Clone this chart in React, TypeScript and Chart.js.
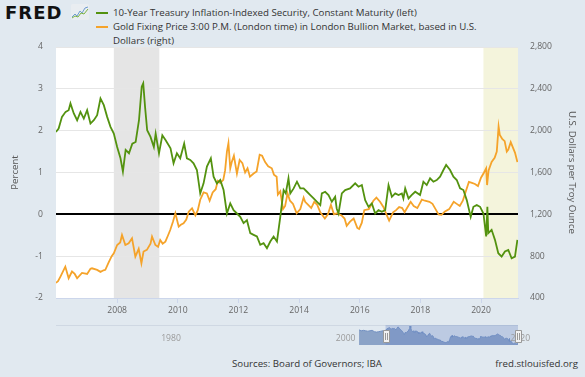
import React, { useEffect, useRef } from "react";
import { Chart, registerables } from "chart.js";

Chart.register(...registerables);

// ---------------- data ----------------
const tipsYears = [
  2005.98, 2006.07, 2006.18, 2006.30, 2006.40, 2006.46, 2006.57, 2006.68, 2006.79, 2006.90,
  2007.01, 2007.12, 2007.23, 2007.34, 2007.45, 2007.56, 2007.67, 2007.78, 2007.89, 2008.00,
  2008.11, 2008.19, 2008.28, 2008.39, 2008.50, 2008.61, 2008.72, 2008.81, 2008.86, 2008.92,
  2008.99, 2009.10, 2009.21, 2009.27, 2009.38, 2009.49, 2009.60, 2009.76, 2009.86, 2009.97,
  2010.08, 2010.21, 2010.30, 2010.41, 2010.52, 2010.63, 2010.74, 2010.85, 2010.96, 2011.09,
  2011.18, 2011.29, 2011.40, 2011.51, 2011.62, 2011.73, 2011.84, 2011.95, 2012.06, 2012.17,
  2012.28, 2012.39, 2012.50, 2012.61, 2012.72, 2012.83, 2012.94, 2013.05, 2013.16, 2013.27,
  2013.38, 2013.49, 2013.56, 2013.65, 2013.71, 2013.82, 2013.93, 2014.04, 2014.15, 2014.26,
  2014.37, 2014.48, 2014.59, 2014.70, 2014.75, 2014.86, 2014.97, 2015.08, 2015.19, 2015.24,
  2015.30, 2015.41, 2015.52, 2015.68, 2015.85, 2015.96, 2016.07, 2016.18, 2016.29, 2016.40,
  2016.51, 2016.62, 2016.73, 2016.84, 2016.95, 2017.06, 2017.17, 2017.28, 2017.39, 2017.44,
  2017.50, 2017.61, 2017.71, 2017.83, 2017.99, 2018.10, 2018.21, 2018.32, 2018.43, 2018.54,
  2018.65, 2018.76, 2018.85, 2018.98, 2019.09, 2019.20, 2019.31, 2019.42, 2019.53, 2019.66,
  2019.75, 2019.86, 2019.97, 2020.08, 2020.17, 2020.21, 2020.24, 2020.35, 2020.46, 2020.57,
  2020.68, 2020.79, 2020.90, 2021.01, 2021.12, 2021.20,
];
const tipsValues = [
  1.97, 2.05, 2.33, 2.45, 2.49, 2.65, 2.41, 2.25, 2.45, 2.29,
  2.49, 2.17, 2.25, 2.37, 2.77, 2.61, 2.33, 2.09, 1.93, 1.61,
  1.34, 1.02, 1.54, 1.46, 1.69, 1.73, 2.25, 3.05, 3.13, 2.57,
  2.01, 1.85, 1.61, 1.93, 1.46, 1.89, 1.77, 1.58, 1.22, 1.46,
  1.34, 1.69, 1.34, 1.30, 1.22, 1.06, 0.50, 0.74, 1.14, 1.34,
  0.90, 0.74, 0.82, 0.58, 0.02, 0.26, 0.10, 0.02, -0.06, -0.21,
  -0.14, -0.45, -0.49, -0.53, -0.73, -0.69, -0.81, -0.65, -0.53, -0.65,
  -0.06, 0.58, 0.50, 0.86, 0.50, 0.62, 0.78, 0.62, 0.62, 0.54,
  0.46, 0.38, 0.30, 0.22, 0.50, 0.54, 0.46, 0.30, 0.42, 0.14,
  0.02, 0.50, 0.58, 0.62, 0.74, 0.66, 0.70, 0.34, 0.18, 0.26,
  0.02, 0.10, 0.06, 0.10, 0.70, 0.42, 0.50, 0.46, 0.50, 0.38,
  0.62, 0.38, 0.46, 0.54, 0.46, 0.78, 0.70, 0.86, 0.78, 0.82,
  0.90, 1.06, 1.18, 1.06, 0.90, 0.82, 0.62, 0.58, 0.34, -0.06,
  0.18, 0.22, 0.18, 0.02, -0.53, 0.18, -0.45, -0.37, -0.61, -0.93,
  -1.01, -0.89, -0.85, -1.05, -1.01, -0.61,
];

const goldYears = [
  2005.98, 2006.05, 2006.13, 2006.29, 2006.40, 2006.51, 2006.60, 2006.68, 2006.84, 2007.01,
  2007.12, 2007.17, 2007.34, 2007.45, 2007.55, 2007.61, 2007.72, 2007.82, 2007.89, 2008.00,
  2008.10, 2008.16, 2008.27, 2008.38, 2008.49, 2008.60, 2008.71, 2008.80, 2008.87, 2008.98,
  2009.10, 2009.15, 2009.26, 2009.35, 2009.42, 2009.50, 2009.59, 2009.68, 2009.75, 2009.84,
  2009.92, 2010.03, 2010.10, 2010.19, 2010.28, 2010.36, 2010.47, 2010.58, 2010.66, 2010.74,
  2010.85, 2010.96, 2011.05, 2011.15, 2011.25, 2011.32, 2011.40, 2011.50, 2011.56, 2011.62,
  2011.67, 2011.73, 2011.78, 2011.85, 2011.95, 2012.04, 2012.13, 2012.22, 2012.30, 2012.38,
  2012.50, 2012.60, 2012.70, 2012.78, 2012.88, 2012.98, 2013.10, 2013.17, 2013.26, 2013.30,
  2013.38, 2013.47, 2013.54, 2013.62, 2013.70, 2013.80, 2013.92, 2014.04, 2014.15, 2014.20,
  2014.30, 2014.40, 2014.50, 2014.60, 2014.70, 2014.85, 2014.95, 2015.05, 2015.15, 2015.25,
  2015.40, 2015.50, 2015.57, 2015.68, 2015.80, 2015.92, 2015.98, 2016.07, 2016.15, 2016.30,
  2016.45, 2016.55, 2016.67, 2016.78, 2016.88, 2016.97, 2017.10, 2017.20, 2017.30, 2017.40,
  2017.48, 2017.58, 2017.68, 2017.78, 2017.90, 2018.05, 2018.15, 2018.30, 2018.40, 2018.50,
  2018.60, 2018.70, 2018.80, 2018.95, 2019.10, 2019.20, 2019.30, 2019.40, 2019.50, 2019.60,
  2019.70, 2019.80, 2019.90, 2020.00, 2020.10, 2020.17, 2020.20, 2020.25, 2020.35, 2020.45,
  2020.52, 2020.58, 2020.62, 2020.70, 2020.78, 2020.85, 2020.90, 2020.98, 2021.05, 2021.12,
  2021.20,
];
const goldValues = [
  545, 560, 605, 700, 589, 653, 630, 589, 640, 630,
  680, 684, 669, 650, 665, 670, 740, 800, 828, 907,
  930, 1003, 907, 923, 971, 796, 870, 732, 844, 860,
  920, 987, 907, 890, 955, 920, 939, 1000, 1050, 1130,
  1210, 1082, 1100, 1114, 1150, 1225, 1257, 1190, 1240, 1340,
  1410, 1400, 1330, 1410, 1440, 1520, 1500, 1530, 1620, 1800,
  1880, 1640, 1700, 1760, 1590, 1720, 1690, 1600, 1640, 1560,
  1590, 1610, 1770, 1760, 1700, 1660, 1640, 1580, 1560, 1390,
  1420, 1250, 1280, 1400, 1330, 1300, 1210, 1250, 1360, 1320,
  1290, 1260, 1320, 1290, 1220, 1160, 1200, 1290, 1200, 1210,
  1190, 1160, 1090, 1130, 1160, 1070, 1060, 1120, 1240, 1250,
  1330, 1360, 1320, 1270, 1200, 1140, 1220, 1240, 1270, 1260,
  1220, 1270, 1320, 1280, 1260, 1340, 1330, 1320, 1300, 1250,
  1200, 1195, 1225, 1250, 1320, 1300, 1280, 1330, 1420, 1510,
  1500, 1490, 1470, 1550, 1600, 1640, 1480, 1620, 1700, 1740,
  1800, 2040, 1960, 1920, 1900, 1800, 1820, 1890, 1840, 1790,
  1700,
];

// navigator: TIPS history before the visible window
const navPrefixYears = [2003.0, 2003.25, 2003.5, 2003.75, 2004.0, 2004.25, 2004.5, 2004.75, 2005.0, 2005.25, 2005.5, 2005.75];
const navPrefixValues = [2.1, 1.9, 2.0, 1.9, 1.8, 1.9, 2.0, 1.7, 1.6, 1.7, 1.8, 1.9];
const navTicks = [1980, 2000, 2020];
const navSelection = [2006.03, 2021.2];

const recessions = [[2007.89, 2009.39]];
const covidShade = [[2020.08, 2021.22]];

const xTicks = [2008, 2010, 2012, 2014, 2016, 2018, 2020];
const leftTicks = [-2, -1, 0, 1, 2, 3, 4];
const rightTicks = [400, 800, 1200, 1600, 2000, 2400, 2800];

const GREEN = "#53920f";
const ORANGE = "#f5a32a";
const BG = "#e1e9f0";
const TICK_FONT = { family: "'Open Sans', sans-serif", size: 8.6 };
const TITLE_FONT = { family: "'Open Sans', sans-serif", size: 9.6 };

function App() {
  const mainRef = useRef<HTMLCanvasElement | null>(null);
  const navRef = useRef<HTMLCanvasElement | null>(null);

  useEffect(() => {
    const bands = {
      id: "bands",
      beforeDraw(chart: any) {
        const { ctx, chartArea: a, scales } = chart;
        const x = scales.x;
        ctx.save();
        ctx.fillStyle = "#ffffff";
        ctx.fillRect(a.left, a.top, a.right - a.left, a.bottom - a.top);
        const fillBand = (s: number, e: number, c: string) => {
          const x0 = Math.max(a.left, x.getPixelForValue(s));
          const x1 = Math.min(a.right, x.getPixelForValue(e));
          ctx.fillStyle = c;
          ctx.fillRect(x0, a.top, x1 - x0, a.bottom - a.top);
        };
        recessions.forEach(([s, e]) => fillBand(s, e, "#e5e5e5"));
        covidShade.forEach(([s, e]) => fillBand(s, e, "#f4f4dc"));
        ctx.restore();
      },
    };

    const main = new Chart(mainRef.current!, {
      type: "line",
      data: {
        datasets: [
          {
            label: "10-Year Treasury Inflation-Indexed Security, Constant Maturity (left)",
            data: tipsYears.map((x, i) => ({ x, y: tipsValues[i] })),
            borderColor: GREEN,
            borderWidth: 1.8,
            pointRadius: 0,
            yAxisID: "y",
            tension: 0,
          },
          {
            label: "Gold Fixing Price 3:00 P.M. (London time) in London Bullion Market, based in U.S. Dollars (right)",
            data: goldYears.map((x, i) => ({ x, y: goldValues[i] })),
            borderColor: ORANGE,
            borderWidth: 1.8,
            pointRadius: 0,
            yAxisID: "y1",
            tension: 0,
          },
        ],
      },
      options: {
        animation: false,
        responsive: false,
        maintainAspectRatio: false,
        layout: { padding: { top: 47, left: 0, right: 0, bottom: 0 } },
        plugins: { legend: { display: false }, tooltip: { enabled: false } },
        scales: {
          x: {
            type: "linear",
            min: 2005.983,
            max: 2021.22,
            afterBuildTicks: (s: any) => {
              s.ticks = xTicks.map((v) => ({ value: v }));
            },
            afterFit: (s: any) => {
              s.height = 22;
            },
            ticks: {
              callback: (v: any) => String(v),
              color: "#666",
              font: TICK_FONT,
              padding: 2,
              maxRotation: 0,
              autoSkip: false,
            },
            grid: { drawOnChartArea: false, drawTicks: true, tickLength: 5, color: "#ccd6eb" },
            border: { color: "#ccd6eb" },
          },
          y: {
            position: "left",
            min: -2,
            max: 4,
            afterBuildTicks: (s: any) => {
              s.ticks = leftTicks.map((v) => ({ value: v }));
            },
            afterFit: (s: any) => {
              s.width = 56;
            },
            ticks: { callback: (v: any) => String(v), color: "#666", font: TICK_FONT, padding: 13 },
            grid: {
              drawTicks: false,
              color: (c: any) => (c.tick && c.tick.value === 0 ? "#000000" : "#e6e6e6"),
              lineWidth: (c: any) => (c.tick && c.tick.value === 0 ? 2 : 1),
            },
            border: { display: false },
            title: { display: true, text: "Percent", color: "#555", font: TITLE_FONT, padding: { top: 10, bottom: 0 } },
          },
          y1: {
            position: "right",
            min: 400,
            max: 2800,
            afterBuildTicks: (s: any) => {
              s.ticks = rightTicks.map((v) => ({ value: v }));
            },
            afterFit: (s: any) => {
              s.width = 67;
            },
            ticks: {
              callback: (v: any) => Number(v).toLocaleString("en-US"),
              color: "#666",
              font: TICK_FONT,
              padding: 12,
            },
            grid: { display: false, drawTicks: false },
            border: { display: false },
            title: {
              display: true,
              text: "U.S. Dollars per Troy Ounce",
              color: "#555",
              font: TITLE_FONT,
              padding: { top: 8, bottom: 0 },
            },
          },
        },
      },
      plugins: [bands],
    } as any);

    const navDecor = {
      id: "navDecor",
      afterDraw(chart: any) {
        const { ctx, chartArea: a, scales } = chart;
        const x = scales.x;
        ctx.save();
        // top outline
        ctx.strokeStyle = "#cfd8e3";
        ctx.lineWidth = 1;
        ctx.beginPath();
        ctx.moveTo(a.left, a.top + 0.5);
        ctx.lineTo(a.right, a.top + 0.5);
        ctx.stroke();
        // selection mask
        const s0 = x.getPixelForValue(navSelection[0]);
        const s1 = x.getPixelForValue(navSelection[1]);
        ctx.fillStyle = "rgba(102,133,194,0.3)";
        ctx.fillRect(s0, a.top, s1 - s0, a.bottom - a.top);
        // labels
        ctx.fillStyle = "#9a9a9a";
        ctx.font = "8.6px 'Open Sans', sans-serif";
        ctx.textAlign = "left";
        ctx.textBaseline = "middle";
        navTicks.forEach((t) => {
          ctx.fillText(String(t), x.getPixelForValue(t) + 3, a.top + 14);
        });
        // handles
        [s0, s1].forEach((hx) => {
          const w = 6;
          const h = 12;
          const top = a.top + 5;
          ctx.fillStyle = "#f2f2f2";
          ctx.strokeStyle = "#999";
          ctx.lineWidth = 1;
          ctx.beginPath();
          ctx.rect(Math.round(hx - w / 2) + 0.5, top + 0.5, w, h);
          ctx.fill();
          ctx.stroke();
          ctx.beginPath();
          ctx.moveTo(Math.round(hx) - 0.5, top + 3);
          ctx.lineTo(Math.round(hx) - 0.5, top + h - 2);
          ctx.moveTo(Math.round(hx) + 1.5, top + 3);
          ctx.lineTo(Math.round(hx) + 1.5, top + h - 2);
          ctx.stroke();
        });
        ctx.restore();
      },
    };

    const navYears = navPrefixYears.concat(tipsYears);
    const navValues = navPrefixValues.concat(tipsValues);

    const nav = new Chart(navRef.current!, {
      type: "line",
      data: {
        datasets: [
          {
            data: navYears.map((x, i) => ({ x, y: navValues[i] })),
            borderColor: "#7391c2",
            backgroundColor: "#8ba3c7",
            borderWidth: 1,
            pointRadius: 0,
            fill: "start",
            tension: 0,
          },
        ],
      },
      options: {
        animation: false,
        responsive: false,
        maintainAspectRatio: false,
        layout: { padding: { top: 7, left: 56, right: 67, bottom: 5 } },
        plugins: { legend: { display: false }, tooltip: { enabled: false } },
        scales: {
          x: { type: "linear", min: 1968.3, max: 2021.2, display: false },
          y: { min: -1.3, max: 3.2, display: false },
        },
      },
      plugins: [navDecor],
    } as any);

    return () => {
      main.destroy();
      nav.destroy();
    };
  }, []);

  const legendText: React.CSSProperties = {
    position: "absolute",
    left: 113,
    fontFamily: "'Open Sans', sans-serif",
    fontSize: 9.7,
    lineHeight: "14px",
    color: "#333",
    whiteSpace: "nowrap",
  };

  return (
    <div
      style={{
        position: "fixed",
        left: 0,
        top: 0,
        width: 585,
        height: 377,
        background: BG,
        overflow: "hidden",
      }}
    >
      <div
        style={{
          position: "absolute",
          left: 5,
          top: 1,
          fontFamily: "'DejaVu Sans', sans-serif",
          fontWeight: 700,
          fontSize: 18,
          lineHeight: "24px",
          letterSpacing: 1,
          color: "#111",
        }}
      >
        FRED
      </div>
      <svg style={{ position: "absolute", left: 71, top: 4 }} width={18} height={16} viewBox="0 0 18 16">
        <rect x={0} y={0} width={18} height={16} rx={1.5} fill="#e9edf1" />
        <polyline points="1,13 4,10 6,12 9,7 11,9 14,4 17,3" fill="none" stroke="#6f9ccf" strokeWidth={1} />
        <polyline points="1,14 4,12 7,13 10,9 13,10 17,5" fill="none" stroke="#7cb342" strokeWidth={1} />
      </svg>
      <div style={{ position: "absolute", left: 96, top: 12, width: 12, height: 2, background: GREEN }} />
      <div style={{ ...legendText, top: 6 }}>10-Year Treasury Inflation-Indexed Security, Constant Maturity (left)</div>
      <div style={{ position: "absolute", left: 96, top: 26, width: 12, height: 2, background: ORANGE }} />
      <div style={{ ...legendText, top: 19.5 }}>
        Gold Fixing Price 3:00 P.M. (London time) in London Bullion Market, based in U.S.
      </div>
      <div style={{ ...legendText, top: 33.5 }}>Dollars (right)</div>

      <canvas
        ref={mainRef}
        width={585}
        height={320}
        style={{ position: "absolute", left: 0, top: 0, width: 585, height: 320 }}
      />
      <canvas
        ref={navRef}
        width={585}
        height={32}
        style={{ position: "absolute", left: 0, top: 318, width: 585, height: 32 }}
      />

      <div
        style={{
          position: "absolute",
          left: 232,
          top: 357,
          fontFamily: "'Open Sans', sans-serif",
          fontSize: 9.7,
          lineHeight: "14px",
          color: "#333",
          whiteSpace: "nowrap",
        }}
      >
        Sources: Board of Governors; IBA
      </div>
      <div
        style={{
          position: "absolute",
          right: 7,
          top: 357,
          fontFamily: "'Open Sans', sans-serif",
          fontSize: 9.7,
          lineHeight: "14px",
          color: "#333",
          whiteSpace: "nowrap",
        }}
      >
        fred.stlouisfed.org
      </div>
    </div>
  );
}

export default App;
